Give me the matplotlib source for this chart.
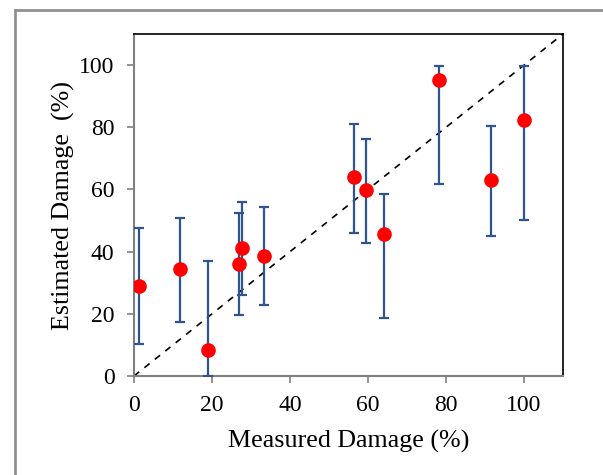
import matplotlib
matplotlib.use("Agg")
import matplotlib.pyplot as plt
from matplotlib.lines import Line2D

plt.rcParams['font.family'] = ['Liberation Serif', 'DejaVu Serif']

# measured vs estimated damage (%), with lower/upper bounds of the estimate
measured = [1.3, 11.8, 19.1, 26.9, 27.7, 33.3, 56.4, 59.6, 64.1, 78.2, 91.6, 100.1]
estimated = [29.0, 34.3, 8.3, 36.0, 41.2, 38.7, 64.1, 59.8, 45.7, 95.2, 63.0, 82.3]
upper = [47.6, 50.8, 37.1, 52.3, 55.9, 54.3, 81.2, 76.2, 58.6, 99.8, 80.3, 99.8]
lower = [10.2, 17.5, 0.0, 19.6, 25.9, 22.8, 46.1, 42.9, 18.5, 61.8, 44.9, 50.2]
ticks = [0, 20, 40, 60, 80, 100]

err_lo = [e - l for e, l in zip(estimated, lower)]
err_hi = [u - e for e, u in zip(estimated, upper)]

fig = plt.figure(figsize=(6.03, 4.75), dpi=100)
ax = fig.add_axes([0.2222, 0.2084, 0.7115, 0.72])

# outer frame (only left and top edges visible)
fig.add_artist(Line2D([0.025, 0.025], [0.0, 0.979], transform=fig.transFigure,
                      color='#909090', lw=2))
fig.add_artist(Line2D([0.025, 1.0], [0.979, 0.979], transform=fig.transFigure,
                      color='#909090', lw=2))

ax.plot([0, 110], [0, 110], ls=(0, (4, 4)), color='black', lw=1.2, zorder=2)
ax.errorbar(measured, estimated, yerr=[err_lo, err_hi], fmt='none',
            ecolor='#2E5590', elinewidth=1.6, capsize=3.5, capthick=1.6, zorder=3)
ax.plot(measured, estimated, 'o', color='#FF0000', markersize=9.5, zorder=4)

ax.set_xlim(0, 110)
ax.set_ylim(0, 110)
ax.set_xticks(ticks)
ax.set_yticks(ticks)
ax.tick_params(direction='out', length=5, width=1.2, color='#808080',
               labelsize=17, pad=9)
for s in ['left', 'bottom']:
    ax.spines[s].set_color('#808080')
    ax.spines[s].set_linewidth(1.5)
for s in ['top', 'right']:
    ax.spines[s].set_color('black')
    ax.spines[s].set_linewidth(1.2)

ax.set_xlabel('Measured Damage (%)', fontsize=18.7, labelpad=10)
ax.set_ylabel('Estimated Damage  (%)', fontsize=18.7, labelpad=3)

fig.savefig('out.png', dpi=100)
